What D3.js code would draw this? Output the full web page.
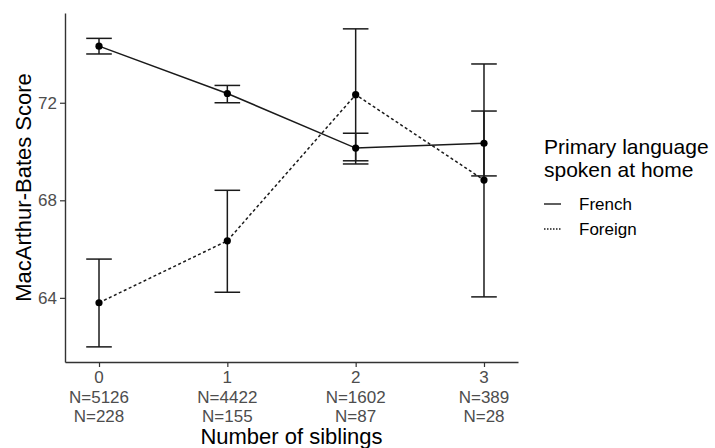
<!DOCTYPE html>
<html>
<head>
<meta charset="utf-8">
<script src="https://cdn.jsdelivr.net/npm/d3@7"></script>
<style>
  body { margin: 0; background: #fff; }
  svg { font-family: "Liberation Sans", Arial, sans-serif; }
</style>
</head>
<body>
<script>
// data
const siblings = [0, 1, 2, 3];
const nFrench = [5126, 4422, 1602, 389];
const nForeign = [228, 155, 87, 28];
const frenchMean = [74.32, 72.38, 70.14, 70.34];
const frenchLo = [74.0, 72.0, 69.49, 69.0];
const frenchHi = [74.64, 72.71, 70.75, 71.66];
const foreignMean = [63.8, 66.34, 72.33, 68.83];
const foreignLo = [61.99, 64.23, 69.62, 64.04];
const foreignHi = [65.59, 68.41, 75.03, 73.59];
const yTicks = [64, 68, 72];
const groups = ["French", "Foreign"];

const width = 715, height = 448;
const panel = { left: 65, right: 518, top: 13, bottom: 362 };

const svg = d3.select("body").append("svg")
    .attr("width", width)
    .attr("height", height);

const x = d3.scaleLinear()
    .domain([-0.265, 3.265])
    .range([panel.left, panel.right]);

const y = d3.scaleLinear()
    .domain([61.37, 75.68])
    .range([panel.bottom, panel.top]);

const series = [
    { name: "French", mean: frenchMean, lo: frenchLo, hi: frenchHi, dash: null },
    { name: "Foreign", mean: foreignMean, lo: foreignLo, hi: foreignHi, dash: "3,2.5" }
];

const capHalf = 12.8; // half width of error bar caps (0.1 of a category)
const ink = "#1a1a1a";

// error bars
series.forEach(s => {
    const g = svg.append("g");
    siblings.forEach((d, i) => {
        g.append("line")
            .attr("x1", x(d)).attr("x2", x(d))
            .attr("y1", y(s.lo[i])).attr("y2", y(s.hi[i]))
            .attr("stroke", ink).attr("stroke-width", 1.5);
        [s.lo[i], s.hi[i]].forEach(v => {
            g.append("line")
                .attr("x1", x(d) - capHalf).attr("x2", x(d) + capHalf)
                .attr("y1", y(v)).attr("y2", y(v))
                .attr("stroke", ink).attr("stroke-width", 1.5);
        });
    });
});

// lines
const line = d3.line()
    .x((d, i) => x(siblings[i]))
    .y(d => y(d));

series.forEach(s => {
    svg.append("path")
        .datum(s.mean)
        .attr("d", line)
        .attr("fill", "none")
        .attr("stroke", ink)
        .attr("stroke-width", 1.5)
        .attr("stroke-dasharray", s.dash);
    svg.selectAll(null)
        .data(s.mean)
        .enter()
        .append("circle")
        .attr("cx", (d, i) => x(siblings[i]))
        .attr("cy", d => y(d))
        .attr("r", 3.6)
        .attr("fill", "#000");
});

// y axis
const yAxis = svg.append("g")
    .attr("transform", "translate(" + panel.left + ",0)")
    .call(d3.axisLeft(y).tickValues(yTicks).tickSize(5).tickPadding(3).tickSizeOuter(0));
yAxis.select(".domain").attr("stroke", "#333").attr("stroke-width", 1.4);
yAxis.selectAll(".tick line").attr("stroke", "#333").attr("stroke-width", 1.2);
yAxis.selectAll(".tick text")
    .attr("fill", "#4d4d4d")
    .style("font-size", "17px")
    .style("font-family", "Liberation Sans, Arial, sans-serif");

// x axis with N counts under each label
const xAxis = svg.append("g")
    .attr("transform", "translate(0," + panel.bottom + ")")
    .call(d3.axisBottom(x).tickValues(siblings).tickSize(5).tickSizeOuter(0).tickFormat(""));
xAxis.select(".domain").attr("stroke", "#333").attr("stroke-width", 1.4);
xAxis.selectAll(".tick line").attr("stroke", "#333").attr("stroke-width", 1.2);

const xLab = svg.append("g")
    .selectAll("text")
    .data(siblings)
    .enter()
    .append("text")
    .attr("text-anchor", "middle")
    .attr("fill", "#4d4d4d")
    .style("font-size", "17px");
xLab.append("tspan").attr("x", d => x(d)).attr("y", 383).text(d => d);
xLab.append("tspan").attr("x", d => x(d)).attr("y", 402.5).text((d, i) => "N=" + nFrench[i]);
xLab.append("tspan").attr("x", d => x(d)).attr("y", 421.5).text((d, i) => "N=" + nForeign[i]);

// axis titles
svg.append("text")
    .attr("x", (panel.left + panel.right) / 2)
    .attr("y", 444)
    .attr("text-anchor", "middle")
    .style("font-size", "22px")
    .attr("fill", "#000")
    .text("Number of siblings");

svg.append("text")
    .attr("transform", "translate(31," + (panel.top + panel.bottom) / 2 + ") rotate(-90)")
    .attr("text-anchor", "middle")
    .style("font-size", "22px")
    .attr("fill", "#000")
    .text("MacArthur-Bates Score");

// legend
const legend = svg.append("g");
legend.append("text")
    .attr("x", 544).attr("y", 154)
    .style("font-size", "21px")
    .text("Primary language");
legend.append("text")
    .attr("x", 544).attr("y", 177)
    .style("font-size", "21px")
    .text("spoken at home");

series.forEach((s, i) => {
    const ly = 204 + i * 25;
    legend.append("line")
        .attr("x1", 544).attr("x2", 561)
        .attr("y1", ly).attr("y2", ly)
        .attr("stroke", ink).attr("stroke-width", 1.4)
        .attr("stroke-dasharray", s.dash ? "1.5,1.5" : null);
    legend.append("text")
        .attr("x", 579).attr("y", ly + 6)
        .style("font-size", "17px")
        .text(groups[i]);
});
</script>
</body>
</html>
